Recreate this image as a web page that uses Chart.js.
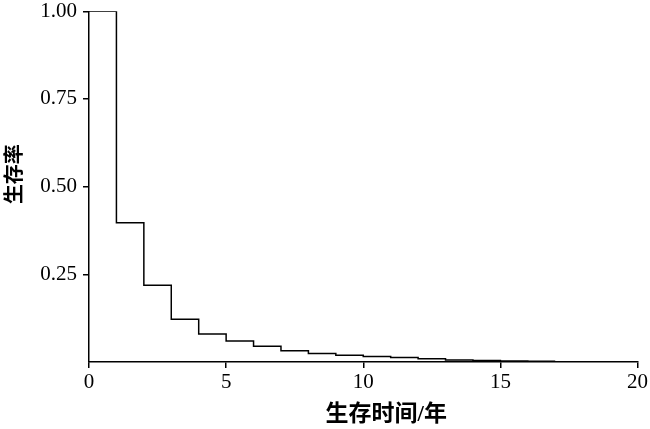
<!DOCTYPE html>
<html>
<head>
<meta charset="utf-8">
<script src="https://cdn.jsdelivr.net/npm/chart.js@4"></script>
<style>
  html, body { margin: 0; padding: 0; background: #fff; }
  #box { width: 650px; height: 429px; }
</style>
</head>
<body>
<div id="box"><canvas id="c"></canvas></div>
<script>
// step start times (years) and survival at each step
const times = [0, 1, 2, 3, 4, 5, 6, 7, 8, 9, 10, 11, 12, 13, 14, 15, 16, 17];
const survival = [1.0, 0.397, 0.219, 0.122, 0.080, 0.060, 0.045, 0.032, 0.024, 0.019, 0.016, 0.013, 0.009, 0.006, 0.004, 0.003, 0.002, 0.002];
const xTicks = [0, 5, 10, 15, 20];
const yTicks = [0.25, 0.5, 0.75, 1.0];

const serif = "'Liberation Serif', 'Noto Sans CJK SC', serif";

new Chart(document.getElementById('c').getContext('2d'), {
  type: 'line',
  data: {
    datasets: [{
      data: times.map((t, i) => ({ x: t, y: survival[i] })),
      stepped: 'before',
      borderColor: '#000',
      borderWidth: 1.5,
      pointRadius: 0,
      fill: false
    }]
  },
  options: {
    responsive: true,
    maintainAspectRatio: false,
    animation: false,
    layout: { padding: { top: 0, right: 12, left: 0, bottom: 0 } },
    plugins: { legend: { display: false }, tooltip: { enabled: false } },
    scales: {
      x: {
        type: 'linear',
        min: 0, max: 20,
        afterBuildTicks: a => { a.ticks = xTicks.map(v => ({ value: v })); },
        afterFit: a => { a.height = 67; },
        grid: { display: true, drawOnChartArea: false, drawTicks: true, tickLength: 6, tickColor: '#000', lineWidth: 1.5 },
        border: { color: '#000', width: 1.5 },
        ticks: { color: '#000', font: { family: serif, size: 21 }, padding: 2, maxRotation: 0 },
        title: {
          display: true, text: '\u3000\u3000生存时间/年', color: '#000',
          font: { family: serif, size: 23, weight: 'bold' }, padding: { top: 0, bottom: 0 }
        }
      },
      y: {
        min: 0, max: 1,
        afterBuildTicks: a => { a.ticks = yTicks.map(v => ({ value: v })); },
        afterFit: a => { a.width = 89; },
        grid: { display: true, drawOnChartArea: false, drawTicks: true, tickLength: 6, tickColor: '#000', lineWidth: 1.5 },
        border: { color: '#000', width: 1.5 },
        ticks: { color: '#000', font: { family: serif, size: 21, lineHeight: 0.5 }, padding: 6, callback: v => v.toFixed(2) },
        title: {
          display: true, text: '\u3000 生存率', color: '#000',
          font: { family: serif, size: 20, weight: 'bold' }, padding: { bottom: 0 }
        }
      }
    }
  }
});
</script>
</body>
</html>
